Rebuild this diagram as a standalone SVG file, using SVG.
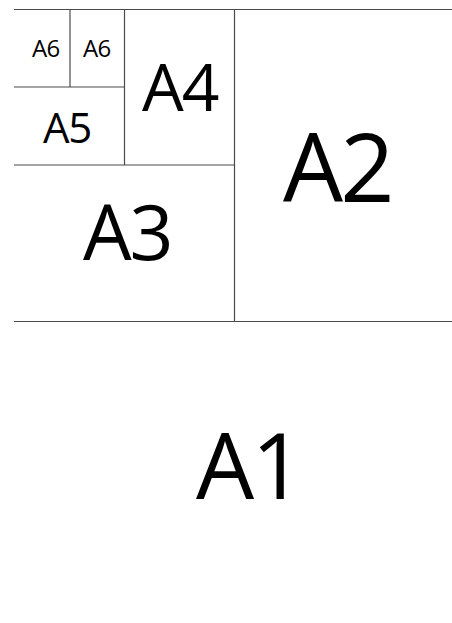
<svg xmlns="http://www.w3.org/2000/svg" width="452" height="623" viewBox="0 0 452 623">
<style>
.ln{stroke:#4a4a4a;stroke-width:1.2;fill:none}
.t{font-family:"Open Sans","Noto Sans",sans-serif;fill:#000;font-weight:500;letter-spacing:-0.03em}
</style>
<rect width="452" height="623" fill="#fff"/>
<g id="connectors">
<line class="ln" x1="14" y1="9.5" x2="452" y2="9.5"/>
<line class="ln" x1="234.5" y1="9.5" x2="234.5" y2="321.5"/>
<line class="ln" x1="14" y1="321.5" x2="452" y2="321.5"/>
<line class="ln" x1="14" y1="165" x2="234.5" y2="165"/>
<line class="ln" x1="124.5" y1="9.5" x2="124.5" y2="165"/>
<line class="ln" x1="14" y1="87" x2="124.5" y2="87"/>
<line class="ln" x1="70" y1="9.5" x2="70" y2="87"/>
</g>
<g id="A6a"><text class="t" x="32" y="57" font-size="24">A6</text></g>
<g id="A6b"><text class="t" x="83" y="57" font-size="24">A6</text></g>
<g id="A5"><text class="t" x="43" y="143" font-size="42">A5</text></g>
<g id="A4"><text class="t" x="142" y="111" font-size="66">A4</text></g>
<g id="A3"><text class="t" x="83" y="260" font-size="77">A3</text></g>
<g id="A2"><text class="t" x="283" y="202" font-size="95">A2</text></g>
<g id="A1"><text class="t" x="196" y="499" font-size="92" letter-spacing="-9">A1</text></g>
</svg>
